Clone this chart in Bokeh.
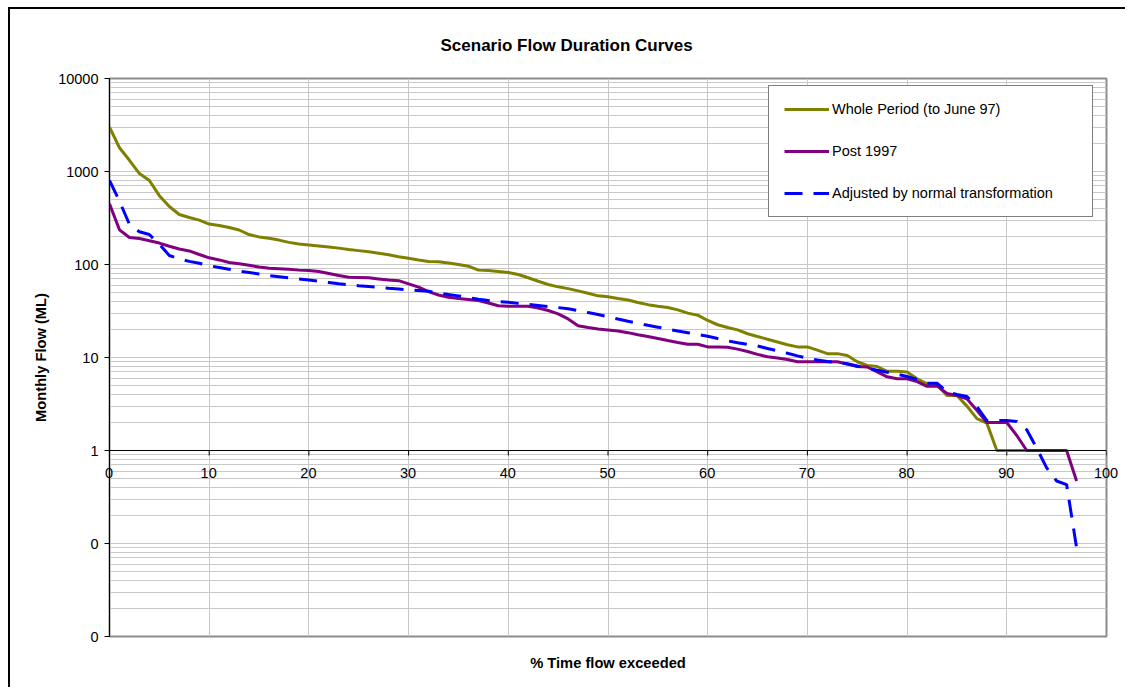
import math
from bokeh.plotting import figure
from bokeh.models import (FixedTicker, Range1d, Span, LabelSet, ColumnDataSource,
                          Legend, LegendItem)
from bokeh.core.properties import value
from bokeh.embed import file_html
from bokeh.resources import INLINE

try:
    from bokeh.models import HTMLLabelSet as TickLabelSet
    HTML_LABELS = True
except Exception:
    TickLabelSet = LabelSet
    HTML_LABELS = False

# ---------------- data ----------------
title_text = "Scenario Flow Duration Curves"
x_title = "% Time flow exceeded"
y_title = "Monthly Flow (ML)"

whole_x = list(range(0, 93))
whole_y = [3000, 1800, 1320, 950, 800, 550, 420, 345, 320, 300,
           272, 262, 250, 235, 210, 198, 192, 183, 173, 166,
           162, 158, 154, 150, 145, 141, 137, 132, 127, 121,
           117, 112, 108, 107, 104, 100, 96, 87, 86, 84,
           82, 78, 72, 66, 61, 57.5, 55, 52, 49, 46,
           45, 43, 41.5, 39, 37, 35.5, 34.5, 32.5, 30, 28.5,
           25, 22.5, 21, 19.8, 18, 16.8, 15.7, 14.7, 13.7, 13.0,
           13.0, 12, 11, 11, 10.5, 9.0, 8.2, 8.0, 7.1, 7.1,
           7.0, 5.9, 5.2, 5.1, 3.9, 3.9, 3.0, 2.2, 1.97, 1.0,
           1.0, 1.0, 1.0]

post_x = list(range(0, 98))
post_y = [450, 236, 195, 190, 180, 170, 157, 147, 140, 128,
          118, 112, 105, 102, 98, 94, 91, 90, 89, 87,
          86, 84, 80, 76, 73, 72.5, 72, 70, 68, 67,
          62, 57, 51, 47, 44.5, 43, 42, 41, 38.5, 36,
          35.5, 35.5, 35.5, 34, 32, 29.5, 26, 22, 21, 20.3,
          19.8, 19.3, 18.5, 17.6, 16.8, 16, 15.2, 14.5, 13.9, 13.9,
          13, 13, 12.9, 12.3, 11.6, 10.8, 10.2, 9.9, 9.5, 9.0,
          9.0, 9.0, 9.0, 9.0, 8.5, 8.0, 7.9, 7.0, 6.2, 5.9,
          5.9, 5.5, 4.9, 4.95, 4.1, 3.9, 3.6, 2.7, 2.0, 2.0,
          2.0, 1.45, 1.0, 1.0, 1.0, 1.0, 1.0, 0.47]

adj_x = list(range(0, 98))
adj_y = [800, 480, 270, 225, 210, 165, 125, 115, 108, 103,
         97, 93, 89, 85, 82, 79, 76, 74, 72, 70,
         68, 66, 64, 62, 60.5, 59, 58, 57, 55.6, 54.5,
         53.4, 52.5, 51.5, 49.5, 47.5, 46, 44, 42.3, 41, 40,
         39.3, 38.2, 37.2, 36.3, 35.3, 34.4, 33.5, 32, 30.4, 29,
         27.4, 25.9, 24.5, 23.3, 22.2, 21.2, 20.2, 19.3, 18.5, 17.7,
         16.9, 16, 15.1, 14.4, 13.8, 13.3, 12.5, 11.8, 11.1, 10.4,
         9.8, 9.4, 9.06, 8.8, 8.55, 8.1, 7.7, 7.3, 6.95, 6.6,
         6.25, 5.8, 5.3, 5.3, 4.3, 4.0, 3.8, 2.97, 2.1, 2.1,
         2.1, 2.05, 1.67, 1.06, 0.65, 0.47, 0.43, 0.09]

series_names = ["Whole Period (to June 97)", "Post 1997", "Adjusted by normal transformation"]
series_colors = ["#808000", "#800080", "#0000FF"]

x_tick_values = [0, 10, 20, 30, 40, 50, 60, 70, 80, 90, 100]
x_tick_labels = ["0", "10", "20", "30", "40", "50", "60", "70", "80", "90", "100"]
y_tick_values = [0.01, 0.1, 1, 10, 100, 1000, 10000]
y_tick_labels = ["0", "0", "1", "10", "100", "1000", "10000"]
y_grid_values = [m * 10.0 ** k for k in range(-2, 4) for m in range(1, 10)] + [10000]

FONT = "Liberation Sans"

# ---------------- figure ----------------
p = figure(width=1117, height=680, y_axis_type="log",
           x_range=Range1d(0, 100), y_range=Range1d(0.01, 10000),
           output_backend="svg", toolbar_location=None,
           min_border_left=99, min_border_right=21,
           min_border_top=68, min_border_bottom=53)
p.styles = {"margin-left": "8px", "margin-top": "7px",
            "border-left": "2px solid black", "border-top": "2px solid black"}
p.background_fill_color = "white"
p.border_fill_color = "white"
p.outline_line_color = "#8c8c8c"
p.outline_line_width = 2

# title
p.title.text = title_text
p.title.text_font = FONT
p.title.text_font_size = "17px"
p.title.text_font_style = "bold"
p.title.text_color = "black"
p.title.align = "left"
p.title.offset = 331
p.title.standoff = 48

# grids
p.xgrid.ticker = FixedTicker(ticks=x_tick_values)
p.xgrid.grid_line_color = "#c8c8c8"
p.ygrid.ticker = FixedTicker(ticks=y_grid_values)
p.ygrid.grid_line_color = "#c8c8c8"

# y axis
p.yaxis.ticker = FixedTicker(ticks=y_tick_values, minor_ticks=[])
p.yaxis.major_label_overrides = {v: s for v, s in zip(y_tick_values, y_tick_labels)}
p.yaxis.axis_label = y_title
p.yaxis.axis_label_text_font = FONT
p.yaxis.axis_label_text_font_size = "14.7px"
p.yaxis.axis_label_text_font_style = "bold"
p.yaxis.axis_label_text_color = "black"
p.yaxis.axis_label_standoff = 6
p.yaxis.major_label_text_font = FONT
p.yaxis.major_label_text_font_size = "14.5px"
p.yaxis.major_label_text_color = "black"
p.yaxis.major_label_standoff = 6
p.yaxis.major_tick_out = 5
p.yaxis.major_tick_in = 0
p.yaxis.minor_tick_out = 0
p.yaxis.minor_tick_in = 0
p.yaxis.axis_line_color = "black"
p.yaxis.major_tick_line_color = "black"

# x axis (below): only the title
p.xaxis.ticker = FixedTicker(ticks=[])
p.xaxis.axis_line_color = None
p.xaxis.major_tick_line_color = None
p.xaxis.minor_tick_line_color = None
p.xaxis.major_tick_out = 0
p.xaxis.major_label_standoff = 0
p.xaxis.axis_label = x_title
p.xaxis.axis_label_text_font = FONT
p.xaxis.axis_label_text_font_size = "14.7px"
p.xaxis.axis_label_text_font_style = "bold"
p.xaxis.axis_label_text_color = "black"
p.xaxis.axis_label_standoff = 18

# horizontal axis crossing at y = 1
p.add_layout(Span(location=1, dimension="width", line_color="black", line_width=1))
p.ray(x=x_tick_values, y=[1] * len(x_tick_values), length=5, length_units="screen",
      angle=-math.pi / 2, line_color="black", line_width=1)
xlab_src = ColumnDataSource(dict(x=x_tick_values, y=[1] * len(x_tick_values), text=x_tick_labels))
if HTML_LABELS:
    xlabels = TickLabelSet(x="x", y="y", text="text", source=xlab_src,
                           text_align="center", text_baseline="top", y_offset=-15,
                           text_font=value(FONT), text_font_size=value("14.5px"),
                           text_color="black")
else:
    xlabels = TickLabelSet(x="x", y="y", text="text", source=xlab_src,
                           text_align="center", text_baseline="top", y_offset=-15,
                           text_font=value(FONT), text_font_size="14.5px", text_color="black")
p.add_layout(xlabels)

# series
r1 = p.line(whole_x, whole_y, line_color=series_colors[0], line_width=3)
r2 = p.line(post_x, post_y, line_color=series_colors[1], line_width=3)
r3 = p.line(adj_x, adj_y, line_color=series_colors[2], line_width=3, line_dash="18 11")

legend = Legend(items=[LegendItem(label=series_names[0], renderers=[r1]),
                       LegendItem(label=series_names[1], renderers=[r2]),
                       LegendItem(label=series_names[2], renderers=[r3])],
                location=(659, 419), orientation="vertical",
                padding=15, spacing=26, margin=0,
                glyph_width=45, glyph_height=6, label_height=6, label_width=245,
                label_standoff=3,
                label_text_font=FONT, label_text_font_size="14.5px", label_text_color="black",
                label_text_baseline="middle",
                border_line_color="black", border_line_width=1,
                background_fill_color="white", background_fill_alpha=1)
p.add_layout(legend)

open("out.html", "w").write(file_html(p, INLINE))
